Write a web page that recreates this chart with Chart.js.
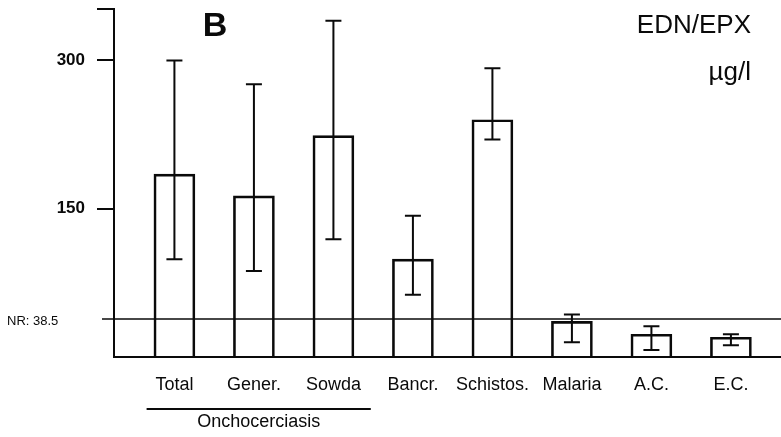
<!DOCTYPE html>
<html>
<head>
<meta charset="utf-8">
<script src="https://cdn.jsdelivr.net/npm/chart.js@4/dist/chart.umd.min.js"></script>
<style>
  html, body { margin: 0; padding: 0; background: #fff; }
  canvas { display: block; }
</style>
</head>
<body>
<canvas id="edn-chart" width="781" height="437"></canvas>
<script>
const categories = ['Total', 'Gener.', 'Sowda', 'Bancr.', 'Schistos.', 'Malaria', 'A.C.', 'E.C.'];
const means = [185, 163, 224, 99, 240, 36, 23, 20];
const errLow = [99, 87, 119, 63, 220, 15, 7, 12];
const errHigh = [300, 276, 340, 143, 292, 43, 31, 23];
const yTicks = [150, 300];
const yMax = 352;
const normalRange = 38.5;
const groupLabel = 'Onchocerciasis';
const groupMembers = [0, 1, 2];

const FONT = '"Liberation Sans", Arial, Helvetica, sans-serif';
const INK = '#0a0a0a';

const errorBars = {
  id: 'errorBars',
  afterDatasetsDraw(chart) {
    const ctx = chart.ctx;
    const xs = chart.scales.x, ys = chart.scales.y;
    ctx.save();
    ctx.strokeStyle = INK;
    ctx.lineWidth = 2;
    means.forEach((m, i) => {
      const x = xs.getPixelForValue(i + 1);
      const top = ys.getPixelForValue(errHigh[i]);
      const bot = ys.getPixelForValue(errLow[i]);
      ctx.beginPath();
      ctx.moveTo(x, top); ctx.lineTo(x, bot);
      ctx.moveTo(x - 8, top); ctx.lineTo(x + 8, top);
      ctx.moveTo(x - 8, bot); ctx.lineTo(x + 8, bot);
      ctx.stroke();
    });
    ctx.restore();
  }
};

const extras = {
  id: 'extras',
  afterDraw(chart) {
    const ctx = chart.ctx;
    const xs = chart.scales.x, ys = chart.scales.y;
    const area = chart.chartArea;
    ctx.save();
    ctx.strokeStyle = INK;
    ctx.fillStyle = INK;
    ctx.lineWidth = 1.5;

    // normal range line
    const ny = ys.getPixelForValue(normalRange);
    ctx.beginPath();
    ctx.moveTo(area.left - 12, ny);
    ctx.lineTo(area.right, ny);
    ctx.stroke();
    ctx.font = '13px ' + FONT;
    ctx.textAlign = 'left';
    ctx.textBaseline = 'middle';
    ctx.fillText('NR: ' + normalRange, 7, ny + 2);

    // group label under the onchocerciasis bars
    const gx0 = xs.getPixelForValue(groupMembers[0] + 1 - 0.35);
    const gx1 = xs.getPixelForValue(groupMembers[groupMembers.length - 1] + 1 + 0.47);
    const gy = area.bottom + 52;
    ctx.lineWidth = 2;
    ctx.beginPath();
    ctx.moveTo(gx0, gy);
    ctx.lineTo(gx1, gy);
    ctx.stroke();
    ctx.font = '18px ' + FONT;
    ctx.textAlign = 'center';
    ctx.fillText(groupLabel, (gx0 + gx1) / 2, gy + 13);

    // panel letter and units
    ctx.font = 'bold 34px ' + FONT;
    ctx.textBaseline = 'alphabetic';
    ctx.fillText('B', 215, 36);
    ctx.font = '26px ' + FONT;
    ctx.textAlign = 'right';
    ctx.fillText('EDN/EPX', 751, 33);
    ctx.fillText('\u00b5g/l', 751, 80);
    ctx.restore();
  }
};

new Chart(document.getElementById('edn-chart'), {
  type: 'bar',
  data: {
    datasets: [{
      data: means.map((v, i) => ({ x: i + 1, y: v })),
      backgroundColor: 'rgba(255,255,255,0)',
      borderColor: INK,
      borderWidth: 2,
      barThickness: 41
    }]
  },
  options: {
    responsive: false,
    animation: false,
    layout: { padding: { top: 9, right: 0, left: 0, bottom: 0 } },
    plugins: {
      legend: { display: false },
      tooltip: { enabled: false }
    },
    scales: {
      x: {
        type: 'linear',
        offset: false,
        min: 0.24,
        max: 8.63,
        afterBuildTicks: scale => {
          scale.ticks = categories.map((c, i) => ({ value: i + 1 }));
        },
        afterFit: scale => {
          scale.height = 80;
          scale.paddingLeft = 0;
          scale.paddingRight = 0;
        },
        grid: { display: false, drawTicks: false, offset: false },
        border: { display: true, color: INK, width: 2 },
        ticks: {
          autoSkip: false,
          maxRotation: 0,
          padding: 17,
          color: INK,
          font: { family: FONT, size: 18 },
          callback: v => categories[v - 1] || ''
        }
      },
      y: {
        min: 0,
        max: yMax,
        afterBuildTicks: scale => {
          scale.ticks = [...yTicks, yMax].map(v => ({ value: v }));
        },
        afterFit: scale => {
          scale.width = 114;
          scale.paddingTop = 0;
          scale.paddingBottom = 0;
        },
        grid: { drawOnChartArea: false, tickLength: 17, color: INK, lineWidth: 2 },
        border: { display: true, color: INK, width: 2 },
        ticks: {
          padding: 12,
          color: INK,
          font: { family: FONT, size: 17, weight: 'bold' },
          callback: v => yTicks.includes(v) ? v : ''
        }
      }
    }
  },
  plugins: [errorBars, extras]
});
</script>
</body>
</html>
